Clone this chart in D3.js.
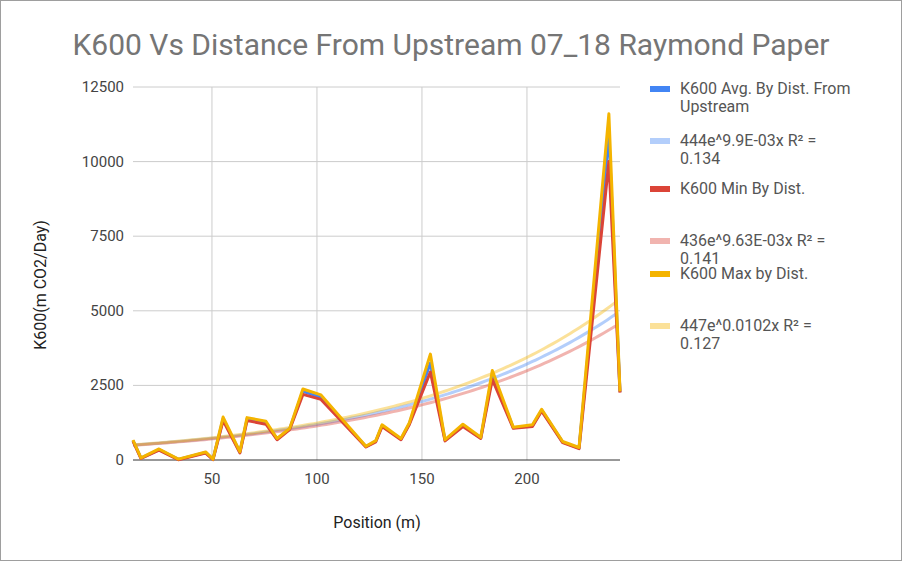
<!DOCTYPE html>
<html><head><meta charset="utf-8">
<script src="https://cdn.jsdelivr.net/npm/d3@7"></script>
<style>body{margin:0;background:#fff;font-family:Roboto,sans-serif}</style>
</head><body><svg id="c" width="902" height="561"></svg>
<script>
const positions = [12.4,16.2,24.8,34,47,50.5,55.3,63.3,66.7,75.7,81,87,93.3,101.9,123.3,128,131,140,144,154,161,169.5,178,183.5,193.5,202.6,207,217,224.8,239,244.3];
const maxVals = [670,70,370,30,270,30,1440,280,1420,1300,720,1060,2380,2180,460,650,1180,720,1250,3550,680,1200,760,3000,1100,1180,1700,620,420,11600,2300];
const avgVals = [650,60,350,20,250,20,1380,260,1370,1250,700,1040,2300,2100,450,630,1150,700,1220,3250,660,1160,740,2850,1080,1150,1670,600,400,10900,2280];
const minVals = [630,50,330,10,230,10,1320,240,1320,1200,680,1020,2200,2030,440,610,1120,680,1190,2950,640,1120,720,2700,1060,1120,1640,580,380,10000,2260];
const trends = [{a:444,b:0.0099,c:"#4285F4"},{a:436,b:0.00963,c:"#DB4437"},{a:447,b:0.0102,c:"#F4B400"}];
const yTicks = [0,2500,5000,7500,10000,12500];
const xTicks = [50,100,150,200];
const legend = [
 {t:["K600 Avg. By Dist. From","Upstream"],c:"#4285F4",o:1},
 {t:["444e^9.9E-03x R² =","0.134"],c:"#4285F4",o:0.4},
 {t:["K600 Min By Dist."],c:"#DB4437",o:1},
 {t:["436e^9.63E-03x R² =","0.141"],c:"#DB4437",o:0.4},
 {t:["K600 Max by Dist."],c:"#F4B400",o:1},
 {t:["447e^0.0102x R² =","0.127"],c:"#F4B400",o:0.4}];

const svg=d3.select("#c");
svg.append("rect").attr("x",0.5).attr("y",0.5).attr("width",901).attr("height",560).attr("fill","#fff").attr("stroke","#9e9e9e");
const x=d3.scaleLinear().domain([12.4,244.3]).range([133,620]);
const y=d3.scaleLinear().domain([0,12500]).range([460,87]);
svg.append("g").selectAll("line").data(yTicks.slice(1)).join("line").attr("x1",133).attr("x2",620).attr("y1",y).attr("y2",y).attr("stroke","#ccc");
svg.append("g").selectAll("line").data(xTicks).join("line").attr("x1",x).attr("x2",x).attr("y1",87).attr("y2",460).attr("stroke","#ccc");
svg.append("g").selectAll("text").data(yTicks).join("text").attr("x",124).attr("y",d=>y(d)+5).attr("text-anchor","end").attr("font-size",15).attr("fill","#444").text(d=>d);
svg.append("g").selectAll("text").data(xTicks).join("text").attr("x",x).attr("y",484).attr("text-anchor","middle").attr("font-size",15).attr("fill","#444").text(d=>d);
const xs=d3.range(12.4,244.4,2);
trends.forEach(t=>{
 svg.append("path").attr("d",d3.line().x(d=>x(d)).y(d=>y(t.a*Math.exp(t.b*d)))(xs)).attr("fill","none").attr("stroke",t.c).attr("stroke-opacity",0.4).attr("stroke-width",3);
});
svg.append("line").attr("x1",133).attr("x2",620).attr("y1",460).attr("y2",460).attr("stroke","#333");
const ln=d3.line().x((d,i)=>x(positions[i])).y(d=>y(d));
[[avgVals,"#4285F4"],[minVals,"#DB4437"],[maxVals,"#F4B400"]].forEach(([v,c])=>{
 svg.append("path").attr("d",ln(v)).attr("fill","none").attr("stroke",c).attr("stroke-width",3).attr("stroke-linejoin","round");
});
svg.append("text").attr("x",451).attr("y",55).attr("text-anchor","middle").attr("font-size",30).attr("fill","#757575").text("K600 Vs Distance From Upstream 07_18 Raymond Paper");
svg.append("text").attr("x",377).attr("y",528).attr("text-anchor","middle").attr("font-size",16).attr("fill","#222").text("Position (m)");
svg.append("text").attr("transform","translate(46,285) rotate(-90)").attr("text-anchor","middle").attr("font-size",16).attr("fill","#222").text("K600(m CO2/Day)");
legend.forEach((l,i)=>{
 const yy=[91,143,191,243,276,328][i];
 svg.append("rect").attr("x",650).attr("y",yy-5).attr("width",20).attr("height",6).attr("fill",l.c).attr("opacity",l.o);
 l.t.forEach((s,j)=>svg.append("text").attr("x",680).attr("y",yy+3+j*18).attr("font-size",16).attr("fill","#555").text(s));
});
</script></body></html>
